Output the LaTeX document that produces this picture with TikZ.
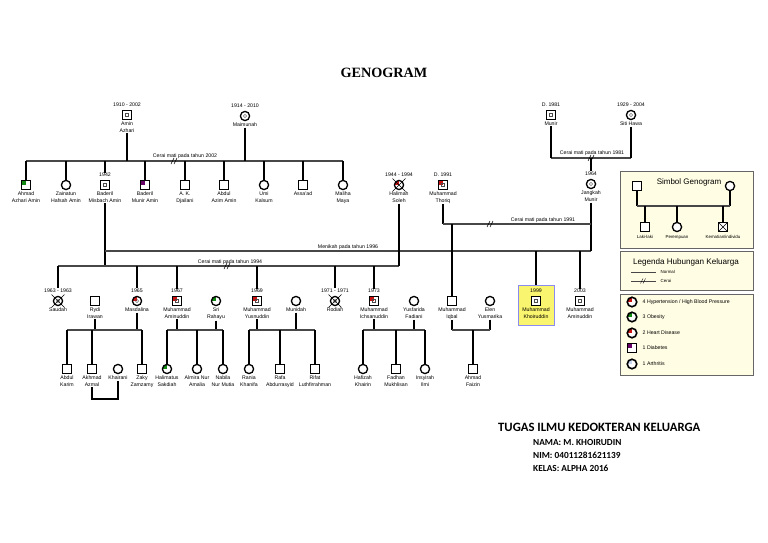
\documentclass[tikz,border=0pt]{standalone}
\usepackage{fontspec}
\setmainfont{Liberation Sans}
\newfontfamily\serifb{Liberation Serif}
\newfontfamily\carl{Carlito}
\definecolor{hred}{HTML}{CC1111}
\definecolor{hgreen}{HTML}{118811}
\definecolor{hpurple}{HTML}{660066}
\definecolor{hblue}{HTML}{C8D8F0}
\definecolor{cream}{HTML}{FFFDE3}
\definecolor{hiyel}{HTML}{FAF56E}
\definecolor{hiblue}{HTML}{8C8CF0}
\begin{document}
\begin{tikzpicture}[x=1pt,y=-1pt,
  per/.style={draw=black, line width=1.3pt, fill=white, inner sep=0pt, outer sep=0pt},
  male/.style={per, rectangle, minimum size=8.6pt},
  fem/.style={per, circle, minimum size=9.2pt},
  yrs/.style={font=\fontsize{5.2}{6}\selectfont, inner sep=0.5pt, label distance=3pt},
  nms/.style={font=\fontsize{5.2}{7}\selectfont, align=center, inner sep=0.5pt, label distance=1.8pt},
  vl/.style={line width=1.5pt, black},
  hl/.style={line width=1.15pt, black!72},
  note/.style={font=\fontsize{5.2}{6}\selectfont, inner sep=0.5pt},
  qd/.style={path picture={\fill[#1] (path picture bounding box.center) rectangle (path picture bounding box.north west);}},
  inmk/.style={draw=black!70, line width=0.35pt, minimum size=3pt, inner sep=0pt},
  inmc/.style={draw=black!70, line width=0.35pt, circle, minimum size=3.2pt, inner sep=0pt},
  lgbox/.style={draw=black!60, line width=0.8pt, fill=cream},
  lgt/.style={font=\fontsize{4.4}{5}\selectfont, inner sep=0.5pt},
  lgi/.style={font=\fontsize{5.2}{6}\selectfont, anchor=west, inner sep=0.5pt},
  lgc/.style={per, circle, minimum size=9.5pt, line width=1.6pt},
  lgs/.style={per, rectangle, minimum size=9pt, line width=1.6pt},
]
\useasboundingbox (0,0) rectangle (768,543);
\fill[white] (0,0) rectangle (768,543);

% title
\node[font=\serifb\bfseries\fontsize{14.2}{16}\selectfont] (title) at (384,73) {GENOGRAM};

% ---------- generation 1
\node[male, label={[yrs,name=aminY]above:1910 - 2002}, label={[nms,name=aminN]below:Amin\\Azhari}] (amin) at (127,115) {};
\node[fem, label={[yrs]above:1914 - 2010}, label={[nms,name=maimN]below:Maimunah}] (maim) at (245,116) {};
\node[male, label={[yrs]above:D. 1981}, label={[nms,name=munirN]below:Munir}] (munir) at (551,115) {};
\node[fem, label={[yrs]above:1929 - 2004}, label={[nms,name=sitiN]below:Siti Hawa}] (siti) at (631,115) {};

% ---------- generation 2
\node[male, qd=hgreen, label={[nms,name=ahmadN]below:Ahmad\\Azhari Amin}] (ahmad) at (26,185) {};
\node[fem, label={[nms,name=zainN]below:Zainatun\\Hafsah Amin}] (zain) at (66,185) {};
\node[male, label={[yrs,name=badY]above:1942}, label={[nms,name=badN]below:Baderil\\Misbach Amin}] (bad) at (105,185) {};
\node[male, qd=hpurple, label={[nms,name=bmunN]below:Baderil\\Munir Amin}] (bmun) at (145,185) {};
\node[male, label={[nms,name=akdN]below:A. K.\\Djailani}] (akd) at (185,185) {};
\node[male, label={[nms,name=azimN]below:Abdul\\Azim Amin}] (azim) at (224,185) {};
\node[fem, label={[nms,name=umiN]below:Umi\\Kalsum}] (umi) at (264,185) {};
\node[male, label={[nms,name=assaN]below:Assa'ad}] (assa) at (303,185) {};
\node[fem, label={[nms,name=maliN]below:Maliha\\Maya}] (mali) at (343,185) {};
\node[fem, qd=hred, label={[yrs,name=halY]above:1944 - 1994}, label={[nms,name=halN]below:Halimah\\Soleh}] (hal) at (399,185) {};
\node[male, qd=hred, label={[yrs,name=thoY]above:D. 1991}, label={[nms,name=thoN]below:Muhammad\\Thoriq}] (tho) at (443,185) {};
\node[fem, label={[yrs,name=janY]above:1964}, label={[nms,name=janN]below:Jangkah\\Munir}] (jan) at (591,184) {};

% ---------- generation 3
\node[draw=hiblue, line width=0.9pt, fill=hiyel, minimum width=36pt, minimum height=40pt, inner sep=0pt] (hlbox) at (536,305) {};
\node[fem, label={[yrs,name=sauY]above:1963 - 1963}, label={[nms,name=sauN]below:Saudah}] (sau) at (58,301) {};
\node[male, label={[nms,name=rydiN]below:Rydi\\Irawan}] (rydi) at (95,301) {};
\node[fem, qd=hred, label={[yrs,name=masdY]above:1965}, label={[nms,name=masdN]below:Masdalina}] (masd) at (137,301) {};
\node[male, qd=hred, label={[yrs,name=amnY]above:1967}, label={[nms,name=amnN]below:Muhammad\\Aminuddin}] (amn) at (177,301) {};
\node[fem, qd=hgreen, label={[nms,name=sriN]below:Sri\\Rahayu}] (sri) at (216,301) {};
\node[male, qd=hred, label={[yrs,name=yusY]above:1969}, label={[nms,name=yusN]below:Muhammad\\Yusnuddin}] (yus) at (257,301) {};
\node[fem, label={[nms,name=muniN]below:Munidah}] (muni) at (296,301) {};
\node[fem, label={[yrs,name=rodY]above:1971 - 1971}, label={[nms,name=rodN]below:Rodiah}] (rod) at (335,301) {};
\node[male, qd=hred, label={[yrs,name=ichY]above:1973}, label={[nms,name=ichN]below:Muhammad\\Ichsanuddin}] (ich) at (374,301) {};
\node[fem, label={[nms,name=yusfN]below:Yusfarida\\Fadiani}] (yusf) at (414,301) {};
\node[male, label={[nms,name=iqbN]below:Muhammad\\Iqbal}] (iqb) at (452,301) {};
\node[fem, label={[nms,name=elenN]below:Elen\\Yusmarika}] (elen) at (490,301) {};
\node[male, label={[yrs,name=khoY]above:1999}, label={[nms,name=khoN]below:Muhammad\\Khoiruddin}] (kho) at (536,301) {};
\node[male, label={[yrs,name=amn2Y]above:2003}, label={[nms,name=amn2N]below:Muhammad\\Aminuddin}] (amn2) at (580,301) {};

% ---------- generation 4
\node[male, label={[nms,name=karimN]below:Abdul\\Karim}] (karim) at (67,369) {};
\node[male, label={[nms,name=azmalN]below:Akhmad\\Azmal}] (azmal) at (92,369) {};
\node[fem, label={[nms,name=khaiN]below:Khairani}] (khai) at (118,369) {};
\node[male, label={[nms,name=zakyN]below:Zaky\\Zamzamy}] (zaky) at (142,369) {};
\node[fem, qd=hgreen, label={[nms,name=haliN]below:Halimatus\\Sakdiah}] (hali) at (167,369) {};
\node[fem, label={[nms,name=almiN]below:Almira Nur\\Amalia}] (almi) at (197,369) {};
\node[fem, label={[nms,name=nabiN]below:Nabila\\Nur Mutia}] (nabi) at (223,369) {};
\node[fem, label={[nms,name=raniN]below:Rania\\Khanifa}] (rani) at (249,369) {};
\node[male, label={[nms,name=rafaN]below:Rafa\\Abdurrasyid}] (rafa) at (280,369) {};
\node[male, label={[nms,name=rifaN]below:Rifat\\Luthfirrahman}] (rifa) at (315,369) {};
\node[fem, label={[nms,name=hafiN]below:Hafizah\\Khairin}] (hafi) at (363,369) {};
\node[male, label={[nms,name=fadhN]below:Fadhan\\Mukhlisan}] (fadh) at (396,369) {};
\node[fem, label={[nms,name=insyN]below:Insyirah\\Ilmi}] (insy) at (425,369) {};
\node[male, label={[nms,name=faizN]below:Ahmad\\Faizin}] (faiz) at (473,369) {};

% inner marks
\foreach \n in {amin,munir,bad,amn,yus,ich,kho,amn2,tho} \node[inmk] at (\n) {};
\foreach \n in {maim,siti,jan,sau,rod,masd} \node[inmc] at (\n) {};
% crosses for deceased
\foreach \n in {hal,sau,rod}
  \draw[line width=0.6pt] ([shift={(-6.5,-6.5)}]\n.center) -- ([shift={(6.5,6.5)}]\n.center)
                          ([shift={(-6.5,6.5)}]\n.center) -- ([shift={(6.5,-6.5)}]\n.center);

% ---------- lines: generation 1 -> 2
\coordinate (L0) at (0,158);
\coordinate (L1) at (0,161);
\draw[hl] (ahmad |- L1) -- (mali |- L1);
\draw[vl] (aminN.south) -- (aminN.south |- L1);
\draw[vl] (maimN.south) -- (maimN.south |- L1);
\foreach \n in {ahmad,zain,bmun,akd,azim,umi,assa,mali} \draw[vl] (\n |- L1) -- (\n.north);
\draw[vl] (bad |- L1) -- (badY.north);
\coordinate (d1) at (174,161);
\draw[line width=0.5pt] ([shift={(-3,3)}]d1) -- ([shift={(0,-3)}]d1) ([shift={(0,3)}]d1) -- ([shift={(3,-3)}]d1);
\node[note] (n1) at (185,156) {Cerai mati pada tahun 2002};

\draw[hl] (munir |- L0) -- (siti |- L0);
\draw[vl] (munirN.south) -- (munir |- L0);
\draw[vl] (sitiN.south) -- (siti |- L0);
\draw[vl] (jan |- L0) -- (janY.north);
\coordinate (d0) at (591,158);
\draw[line width=0.5pt] ([shift={(-3,3)}]d0) -- ([shift={(0,-3)}]d0) ([shift={(0,3)}]d0) -- ([shift={(3,-3)}]d0);
\node[note] (n0) at (592,153) {Cerai mati pada tahun 1981};

% ---------- lines: generation 2 -> 3
\coordinate (L2) at (0,224);
\coordinate (L3) at (0,251);
\coordinate (L4) at (0,266);
\draw[vl] (badN.south) -- (bad |- L4);
\draw[hl] (bad |- L3) -- (jan |- L3);
\draw[vl] (janN.south) -- (jan |- L3);
\draw[hl] (sau |- L4) -- (hal |- L4);
\draw[vl] (halN.south) -- (hal |- L4);
\draw[vl] (thoN.south) -- (tho |- L2);
\draw[hl] (tho |- L2) -- (jan |- L2);
\draw[vl] (iqb |- L2) -- (iqb.north);
\draw[vl] (kho |- L3) -- (hlbox.north);
\draw[vl] (amn2 |- L3) -- (amn2Y.north);
\foreach \n in {sau,masd,amn,yus,rod,ich} \draw[vl] (\n |- L4) -- (\n Y.north);
\coordinate (d2) at (490,224);
\draw[line width=0.5pt] ([shift={(-3,3)}]d2) -- ([shift={(0,-3)}]d2) ([shift={(0,3)}]d2) -- ([shift={(3,-3)}]d2);
\node[note] (n2) at (543,220) {Cerai mati pada tahun 1991};
\node[note] (n3) at (348,247) {Menikah pada tahun 1996};
\coordinate (d4) at (227,266);
\draw[line width=0.5pt] ([shift={(-3,3)}]d4) -- ([shift={(0,-3)}]d4) ([shift={(0,3)}]d4) -- ([shift={(3,-3)}]d4);
\node[note] (n4) at (230,262) {Cerai mati pada tahun 1994};

% ---------- lines: generation 3 -> 4
\coordinate (L5) at (0,330);
\coordinate (L6) at (0,399);
\foreach \p in {rydi,masd,amn,sri,yus,muni,ich,yusf,iqb,elen} \draw[vl] (\p N.south) -- (\p |- L5);
\draw[hl] (karim |- L5) -- (zaky |- L5);
\draw[hl] (hali |- L5) -- (nabi |- L5);
\draw[hl] (rani |- L5) -- (rifa |- L5);
\draw[hl] (hafi |- L5) -- (insy |- L5);
\draw[hl] (iqb |- L5) -- (elen |- L5);
\foreach \c in {karim,azmal,zaky,hali,almi,nabi,rani,rafa,rifa,hafi,fadh,insy,faiz} \draw[vl] (\c |- L5) -- (\c.north);
\draw[vl] (azmalN.south) -- (azmal |- L6) -| (khaiN.south);

% ---------- legend 1
\draw[lgbox] (620,171) rectangle (753,248);
\node[male] (lgM) at (637,186) {};
\node[fem] (lgF) at (730,186) {};
\node[font=\fontsize{8}{9}\selectfont] (lgT) at (689,182) {Simbol Genogram};
\node[male] (lgL) at (645,227) {};
\node[fem] (lgP) at (677,227) {};
\node[male] (lgK) at (723,227) {};
\draw[line width=0.5pt] (lgK.north west) -- (lgK.south east) (lgK.north east) -- (lgK.south west);
\coordinate (LL) at (0,206);
\draw[vl] (lgM.south) -- (lgM |- LL);
\draw[vl] (lgF.south) -- (lgF |- LL);
\draw[hl] (lgM |- LL) -- (lgF |- LL);
\foreach \c in {lgL,lgP,lgK} \draw[vl] (\c |- LL) -- (\c.north);
\node[lgt] (lgLt) at (645,237) {Laki-laki};
\node[lgt] (lgPt) at (677,237) {Perempuan};
\node[lgt] (lgKt) at (723,237) {Kematian/individu};

% ---------- legend 2
\draw[lgbox] (620,251) rectangle (753,290);
\node[font=\fontsize{8.1}{9}\selectfont] (lgH) at (686,262) {Legenda Hubungan Keluarga};
\coordinate (nA) at (631,272);
\coordinate (nB) at (656,272);
\draw[hl, line width=0.6pt] (nA) -- (nB);
\node[lgt, anchor=west] (lgN) at (660,272) {Normal};
\coordinate (cA) at (631,281);
\coordinate (cB) at (656,281);
\coordinate (cM) at (643,281);
\draw[hl, line width=0.6pt] (cA) -- (cB);
\draw[line width=0.4pt] ([shift={(-2.5,2.5)}]cM) -- ([shift={(0,-2.5)}]cM) ([shift={(0,2.5)}]cM) -- ([shift={(2.5,-2.5)}]cM);
\node[lgt, anchor=west] (lgC) at (660,281) {Cerai};

% ---------- legend 3
\draw[lgbox] (620,294) rectangle (753,375);
\node[lgc, qd=hred] (i1) at (632,302) {};
\node[lgi] (t1) at (642,302) {4 Hypertension / High Blood Pressure};
\node[lgc, qd=hgreen] (i2) at (632,317) {};
\node[lgi] (t2) at (642,317) {3 Obesity};
\node[lgc, qd=hred] (i3) at (632,333) {};
\node[lgi] (t3) at (642,333) {2 Heart Disease};
\node[lgs, qd=hpurple] (i4) at (632,348) {};
\node[lgi] (t4) at (642,348) {1 Diabetes};
\node[lgc, qd=hblue] (i5) at (632,364) {};
\node[lgi] (t5) at (642,364) {1 Arthritis};

% ---------- bottom text
\node[anchor=west, inner sep=0pt, font=\carl\bfseries\fontsize{12.7}{14}\selectfont] (tug) at (498,427) {TUGAS ILMU KEDOKTERAN KELUARGA};
\node[anchor=west, inner sep=0pt, font=\carl\bfseries\fontsize{9.3}{11}\selectfont] (nama) at (533,442) {NAMA: M. KHOIRUDIN};
\node[anchor=west, inner sep=0pt, font=\carl\bfseries\fontsize{9.3}{11}\selectfont] (nim) at (533,455) {NIM: 04011281621139};
\node[anchor=west, inner sep=0pt, font=\carl\bfseries\fontsize{9.3}{11}\selectfont] (kelas) at (533,468) {KELAS: ALPHA 2016};
\end{tikzpicture}
\end{document}
